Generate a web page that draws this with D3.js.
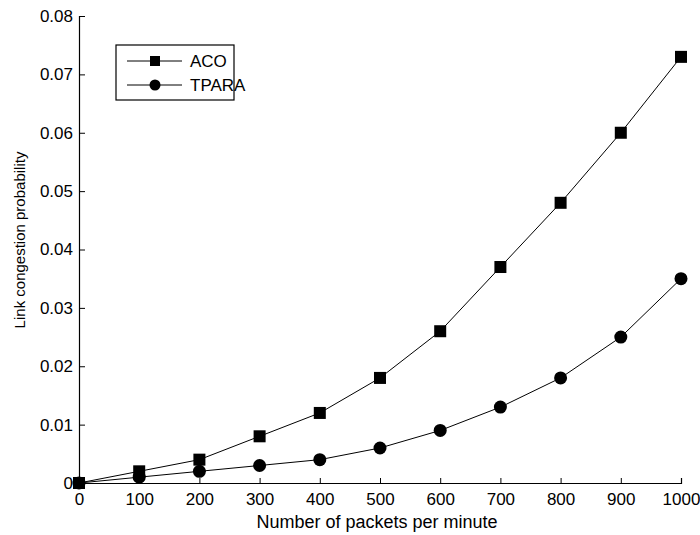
<!DOCTYPE html>
<html>
<head>
<meta charset="utf-8">
<script src="https://cdn.jsdelivr.net/npm/d3@7"></script>
<style>
    body { margin: 0; background: #fff; }
    svg text { font-family: "Liberation Sans", Arial, sans-serif; fill: #000; }
</style>
</head>
<body>
<svg id="chart" width="700" height="535"></svg>
<script>
const packets = [0, 100, 200, 300, 400, 500, 600, 700, 800, 900, 1000];
const aco = [0, 0.002, 0.004, 0.008, 0.012, 0.018, 0.026, 0.037, 0.048, 0.060, 0.073];
const tpara = [0, 0.001, 0.002, 0.003, 0.004, 0.006, 0.009, 0.013, 0.018, 0.025, 0.035];
const yTicks = [0, 0.01, 0.02, 0.03, 0.04, 0.05, 0.06, 0.07, 0.08];
const seriesNames = ["ACO", "TPARA"];

const svg = d3.select("svg#chart");
const bounds = { minX: 79, maxX: 681, minY: 16, maxY: 483 };
const fontSize = "17px";

const scaleX = d3.scaleLinear().domain([0, 1000]).range([bounds.minX, bounds.maxX]);
const scaleY = d3.scaleLinear().domain([0, 0.08]).range([bounds.maxY, bounds.minY]);

// axes, ticks pointing inward like the matlab figure
let xAxis = d3.axisBottom(scaleX).tickValues(packets).tickSize(-5).tickPadding(9).tickFormat(d3.format("d"));
let xG = svg.append("g").attr("transform", `translate(0 ${bounds.maxY})`).call(xAxis);

let yAxis = d3.axisLeft(scaleY).tickValues(yTicks).tickSize(-6).tickPadding(6)
    .tickFormat(d => d === 0 ? "0" : d3.format(".2f")(d));
let yG = svg.append("g").attr("transform", `translate(${bounds.minX} 0)`).call(yAxis);

[xG, yG].forEach(g => {
    g.selectAll("path").attr("stroke", "#000").attr("stroke-width", 1.2);
    g.selectAll("line").attr("stroke", "#000");
    g.selectAll("text").style("font-size", fontSize).attr("fill", "#000");
});
xG.selectAll("text").attr("dy", "0.75em");

svg.append("text")
    .attr("x", 377)
    .attr("y", 528)
    .attr("text-anchor", "middle")
    .style("font-size", "18px")
    .text("Number of packets per minute");

svg.append("text")
    .attr("transform", "translate(25 240) rotate(-90)")
    .attr("text-anchor", "middle")
    .style("font-size", "15px")
    .text("Link congestion probability");

const line = d3.line().x((d, i) => scaleX(packets[i])).y(d => scaleY(d));

function drawSeries(values, shape) {
    svg.append("path").datum(values)
        .attr("d", line)
        .attr("fill", "none")
        .attr("stroke", "#000")
        .attr("stroke-width", 1);
    let g = svg.append("g");
    if (shape === "square") {
        g.selectAll("rect").data(values).enter().append("rect")
            .attr("x", (d, i) => scaleX(packets[i]) - 6)
            .attr("y", d => scaleY(d) - 6)
            .attr("width", 12).attr("height", 12)
            .attr("fill", "#000");
    } else {
        g.selectAll("circle").data(values).enter().append("circle")
            .attr("cx", (d, i) => scaleX(packets[i]))
            .attr("cy", d => scaleY(d))
            .attr("r", 6.5)
            .attr("fill", "#000");
    }
}

drawSeries(aco, "square");
drawSeries(tpara, "circle");

// legend
let legend = svg.append("g").attr("transform", "translate(116 45)");
legend.append("rect").attr("width", 118).attr("height", 55)
    .attr("fill", "#fff").attr("stroke", "#000").attr("stroke-width", 1.2);
seriesNames.forEach((name, i) => {
    let y = 16 + i * 24;
    legend.append("line").attr("x1", 11).attr("x2", 66).attr("y1", y).attr("y2", y)
        .attr("stroke", "#000");
    if (i === 0) {
        legend.append("rect").attr("x", 34).attr("y", y - 5).attr("width", 10).attr("height", 10).attr("fill", "#000");
    } else {
        legend.append("circle").attr("cx", 39).attr("cy", y).attr("r", 5.5).attr("fill", "#000");
    }
    legend.append("text").attr("x", 74).attr("y", y).attr("dy", "0.36em")
        .style("font-size", fontSize).text(name);
});
</script>
</body>
</html>
